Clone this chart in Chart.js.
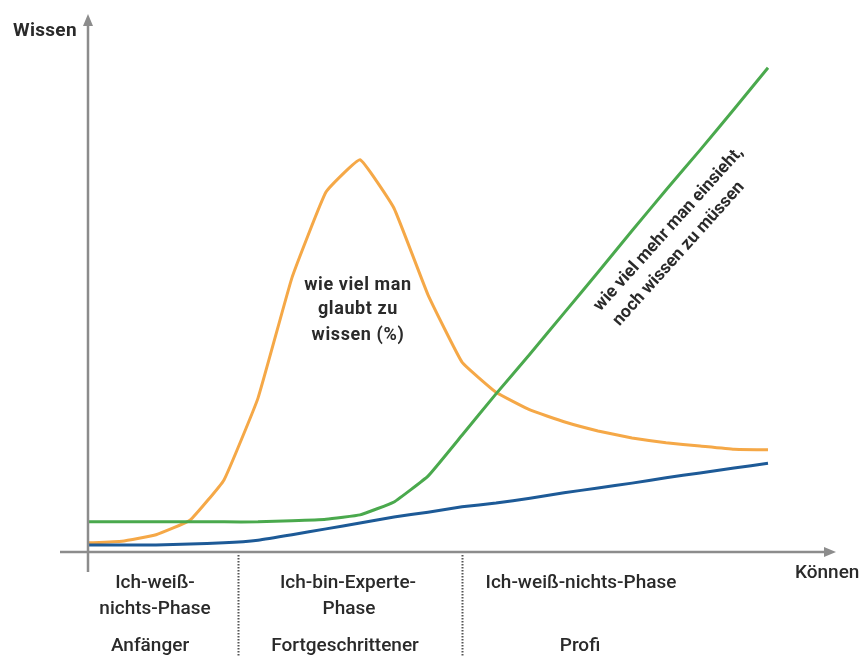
<!DOCTYPE html>
<html>
<head>
<meta charset="utf-8">
<script src="https://cdn.jsdelivr.net/npm/chart.js@4/dist/chart.umd.min.js"></script>
<style>
  html, body { margin: 0; padding: 0; background: #fff; }
  #wrap { width: 859px; height: 657px; position: relative; }
</style>
</head>
<body>
<div id="wrap"><canvas id="c" width="859" height="657"></canvas></div>
<script>
// Können (x) steps
const koennen = [0, 5, 10, 15, 20, 25, 30, 35, 40, 45, 50, 55, 60, 65, 70, 75, 80, 85, 90, 95, 100];

// wie viel man glaubt zu wissen
const glaubt = [1.7, 2.0, 3.2, 5.9, 13.4, 28.6, 51.0, 66.9, 72.9, 63.9, 47.8, 35.3, 29.7, 26.4, 24.2, 22.5, 21.2, 20.3, 19.7, 19.1, 19.0];

// wie viel mehr man einsieht, noch wissen zu müssen
const einsicht = [5.6, 5.6, 5.6, 5.6, 5.6, 5.6, 5.8, 6.1, 6.9, 9.3, 14.1, 21.7, 29.4, 36.8, 44.4, 52.0, 59.7, 67.3, 74.7, 82.3, 90.0];

// tatsächliches Wissen
const wissen = [1.3, 1.3, 1.3, 1.5, 1.7, 2.2, 3.2, 4.3, 5.4, 6.5, 7.4, 8.4, 9.1, 10.0, 11.0, 11.9, 12.8, 13.8, 14.7, 15.6, 16.5];

const phaseBreaks = [22, 55];

const FONT = 'Roboto, "Liberation Sans", Arial, sans-serif';
const TEXT = '#2a2a2a';
const AXIS = '#8c8c8c';

const toXY = (ys) => koennen.map((x, i) => ({ x, y: ys[i] }));

const decor = {
  id: 'decor',
  afterDatasetsDraw(chart) {
    const { ctx, scales: { x, y } } = chart;
    const x0 = x.getPixelForValue(0);
    const y0 = y.getPixelForValue(0);
    ctx.save();

    // axes with arrows
    ctx.strokeStyle = AXIS;
    ctx.fillStyle = AXIS;
    ctx.lineWidth = 2.5;
    ctx.beginPath();
    ctx.moveTo(x0 - 28, y0);
    ctx.lineTo(x.right - 8, y0);
    ctx.moveTo(x0, y0 + 20);
    ctx.lineTo(x0, y.top + 8);
    ctx.stroke();
    ctx.beginPath();
    ctx.moveTo(x.right, y0);
    ctx.lineTo(x.right - 12, y0 - 5);
    ctx.lineTo(x.right - 12, y0 + 5);
    ctx.closePath();
    ctx.fill();
    ctx.beginPath();
    ctx.moveTo(x0, y.top);
    ctx.lineTo(x0 - 5, y.top + 12);
    ctx.lineTo(x0 + 5, y.top + 12);
    ctx.closePath();
    ctx.fill();

    // dotted phase separators
    ctx.strokeStyle = '#555';
    ctx.lineWidth = 2;
    ctx.setLineDash([1.5, 1.5]);
    phaseBreaks.forEach((b) => {
      const px = Math.round(x.getPixelForValue(b)) + 0.5;
      ctx.beginPath();
      ctx.moveTo(px, y0 + 3);
      ctx.lineTo(px, chart.height);
      ctx.stroke();
    });
    ctx.setLineDash([]);

    // texts
    ctx.fillStyle = TEXT;
    ctx.textAlign = 'center';
    ctx.textBaseline = 'middle';
    const put = (t, px, py, size, weight, sp) => {
      ctx.font = (weight || '500') + ' ' + size + 'px ' + FONT;
      ctx.letterSpacing = (sp || 0) + 'px';
      ctx.fillText(t, px, py);
    };
    put('Ich-weiß-', 155, y0 + 31, 19, '500', 0);
    put('nichts-Phase', 155, y0 + 57, 19, '500', 0);
    put('Anfänger', 150, y0 + 94, 19, '500', 0);
    put('Ich-bin-Experte-', 348, y0 + 31, 19, '500', 0);
    put('Phase', 349, y0 + 57, 19, '500', 0);
    put('Fortgeschrittener', 345, y0 + 94, 19, '500', 0);
    put('Ich-weiß-nichts-Phase', 581, y0 + 31, 19, '500', 0);
    put('Profi', 580, y0 + 94, 19, '500', 0);

    ctx.textAlign = 'left';
    put('Können', 795, y0 + 21, 19, '500', 0);
    put('Wissen', 13, 31, 19, 'bold', 0.3);

    ctx.textAlign = 'center';
    const pk = x.getPixelForValue(39.7);
    put('wie viel man', pk, y.getPixelForValue(49.6), 18, 'bold', 0.6);
    put('glaubt zu', pk, y.getPixelForValue(45.0), 18, 'bold', 0.6);
    put('wissen (%)', pk, y.getPixelForValue(40.3), 18, 'bold', 0.6);

    const rot = (t, vx, vy) => {
      ctx.save();
      ctx.translate(x.getPixelForValue(vx), y.getPixelForValue(vy));
      ctx.rotate(-48 * Math.PI / 180);
      put(t, 0, 0, 17.5, 'bold', 0);
      ctx.restore();
    };
    rot('wie viel mehr man einsieht,', 85.4, 60.0);
    rot('noch wissen zu müssen', 86.9, 55.4);

    ctx.restore();
  },
};

const line = (data, color) => ({
  data: toXY(data),
  borderColor: color,
  borderWidth: 3,
  pointRadius: 0,
  tension: 0.1,
  fill: false,
});

new Chart(document.getElementById('c'), {
  type: 'line',
  data: {
    datasets: [
      line(wissen, '#1d5a97'),
      line(einsicht, '#4aa94d'),
      line(glaubt, '#f5a847'),
    ],
  },
  options: {
    responsive: false,
    animation: false,
    layout: { padding: { left: 88, right: 23, top: 14, bottom: 105 } },
    plugins: { legend: { display: false }, tooltip: { enabled: false } },
    scales: {
      x: { type: 'linear', min: 0, max: 110, display: false },
      y: { min: 0, max: 100, display: false },
    },
  },
  plugins: [decor],
});
</script>
</body>
</html>
